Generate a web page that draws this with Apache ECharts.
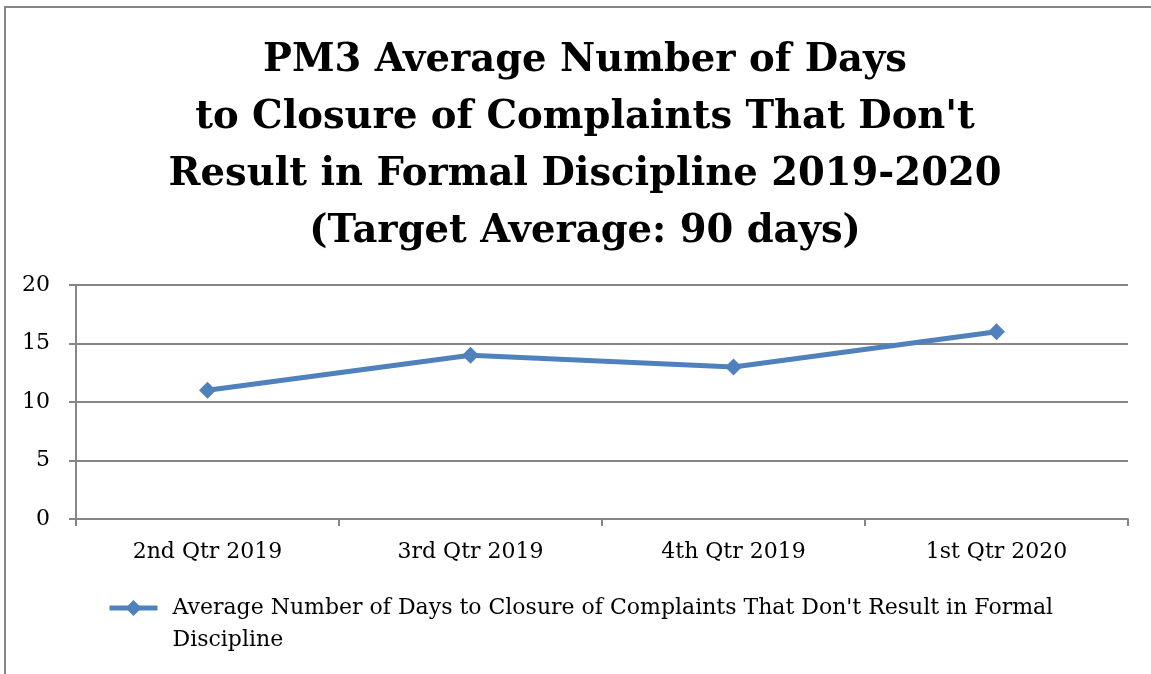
<!DOCTYPE html>
<html>
<head>
<meta charset="utf-8">
<script src="https://cdn.jsdelivr.net/npm/echarts@6/dist/echarts.min.js"></script>
<style>
  html, body { margin: 0; padding: 0; background: #ffffff; }
  #chart { width: 1151px; height: 674px; }
</style>
</head>
<body>
<div id="chart"></div>
<script>
const titleLines = [
  "PM3 Average Number of Days",
  "to Closure of Complaints That Don't",
  "Result in Formal Discipline 2019-2020",
  "(Target Average: 90 days)"
];
const categories = ["2nd Qtr 2019", "3rd Qtr 2019", "4th Qtr 2019", "1st Qtr 2020"];
const seriesName = "Average Number of Days to Closure of Complaints That Don't Result in Formal Discipline";
const legendLines = ["Average Number of Days to Closure of Complaints That Don't Result in Formal", "Discipline"];
const values = [11, 14, 13, 16];
const yTicks = { min: 0, max: 20, interval: 5 };

const serif = "'DejaVu Serif', 'Liberation Serif', serif";
const gray = '#868686';
const blue = '#4F81BD';

const chart = echarts.init(document.getElementById('chart'), null, { renderer: 'canvas' });
chart.setOption({
  backgroundColor: '#ffffff',
  animation: false,
  title: {
    text: titleLines.join('\n'),
    left: 580,
    textAlign: 'center',
    top: 27,
    textStyle: {
      fontFamily: serif,
      fontWeight: 'bold',
      fontSize: 38.5,
      lineHeight: 57,
      color: '#000000'
    }
  },
  graphic: [{
    type: 'rect',
    shape: { x: 5, y: 7, width: 1300, height: 800 },
    style: { fill: 'none', stroke: gray, lineWidth: 2 },
    silent: true,
    z: -1
  }],
  grid: { left: 76, right: 23, top: 285, bottom: 155, containLabel: false },
  legend: {
    left: 107,
    top: 560,
    padding: 0,
    itemWidth: 48,
    itemHeight: 20,
    data: [seriesName],
    formatter: function () { return ' \n' + legendLines.join('\n'); },
    itemStyle: { color: blue },
    lineStyle: { color: blue, width: 5 },
    textStyle: {
      fontFamily: serif,
      fontSize: 22,
      lineHeight: 32,
      color: '#000000',
      padding: [0, 0, 0, 10]
    }
  },
  xAxis: {
    type: 'category',
    data: categories,
    boundaryGap: true,
    axisLine: { show: true, lineStyle: { color: gray, width: 2 } },
    axisTick: { show: true, length: 7, lineStyle: { color: gray, width: 2 } },
    axisLabel: { fontFamily: serif, fontSize: 22, color: '#000000', margin: 22 }
  },
  yAxis: {
    type: 'value',
    min: yTicks.min,
    max: yTicks.max,
    interval: yTicks.interval,
    axisLine: { show: true, lineStyle: { color: gray, width: 2 } },
    axisTick: { show: true, length: 7, lineStyle: { color: gray, width: 2 } },
    splitLine: { show: true, lineStyle: { color: gray, width: 2 } },
    axisLabel: { fontFamily: serif, fontSize: 22, color: '#000000', margin: 26 }
  },
  series: [{
    name: seriesName,
    type: 'line',
    data: values,
    symbol: 'diamond',
    symbolSize: 17,
    itemStyle: { color: blue },
    lineStyle: { color: blue, width: 5 }
  }]
});
</script>
</body>
</html>
